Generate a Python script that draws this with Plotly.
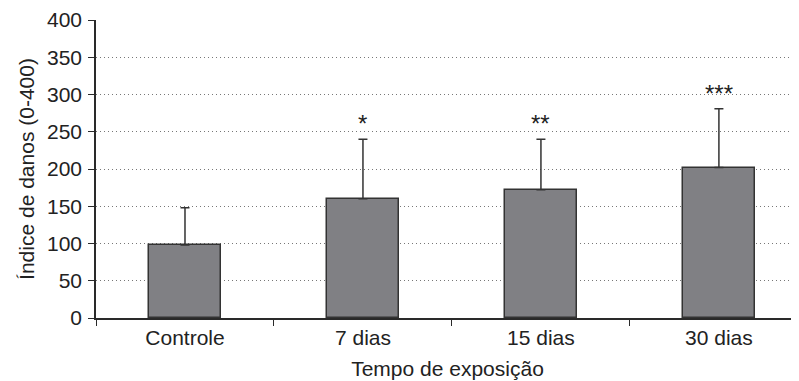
import plotly.graph_objects as go

categories = ["Controle", "7 dias", "15 dias", "30 dias"]
values = [98, 160, 172, 202]
errors = [50, 80, 68, 79]
stars = ["", "*", "**", "***"]

y_ticks = [0, 50, 100, 150, 200, 250, 300, 350, 400]

FONT = "Liberation Sans, Arial, sans-serif"
AX = "#2a2a2a"

fig = go.Figure()
fig.add_trace(go.Bar(
    x=categories, y=values,
    width=0.404,
    marker=dict(color="#808084", line=dict(color="#333333", width=1.5)),
    error_y=dict(type="data", symmetric=False, array=errors, arrayminus=[0] * 4,
                 color="#333333", thickness=1.5, width=4.5),
))

for c, v, e, s in zip(categories, values, errors, stars):
    if s:
        fig.add_annotation(x=c, y=v + e, text=s, showarrow=False,
                           yanchor="bottom", yshift=0,
                           font=dict(family=FONT, size=24, color="#222"))

fig.update_layout(
    width=791, height=373,
    margin=dict(l=88, r=0, t=12, b=63, autoexpand=False),
    paper_bgcolor="white", plot_bgcolor="white",
    showlegend=False,
    font=dict(family=FONT, size=21, color="#222"),
    bargap=0,
)
fig.update_xaxes(
    type="category", range=[-0.5, 3.45],
    showline=True, linecolor=AX, linewidth=1.5,
    ticks="outside", ticklen=6, tickcolor=AX, tickwidth=1.2,
    tickson="boundaries", showgrid=False,
    tickfont=dict(size=21),
    title=dict(text="Tempo de exposição", font=dict(size=21), standoff=13),
    automargin=False,
)
fig.update_yaxes(
    range=[0, 400], tickvals=y_ticks,
    showline=True, linecolor=AX, linewidth=1.5,
    ticks="outside", ticklen=6, tickcolor=AX, tickwidth=1.2,
    ticklabelstandoff=2,
    showgrid=True, gridcolor="#777777", griddash="1px,3px", gridwidth=1,
    zeroline=False,
    tickfont=dict(size=21),
    title=dict(text="Índice de danos (0-400)", font=dict(size=21), standoff=7),
    automargin=False,
)

fig.write_html("out.html")
